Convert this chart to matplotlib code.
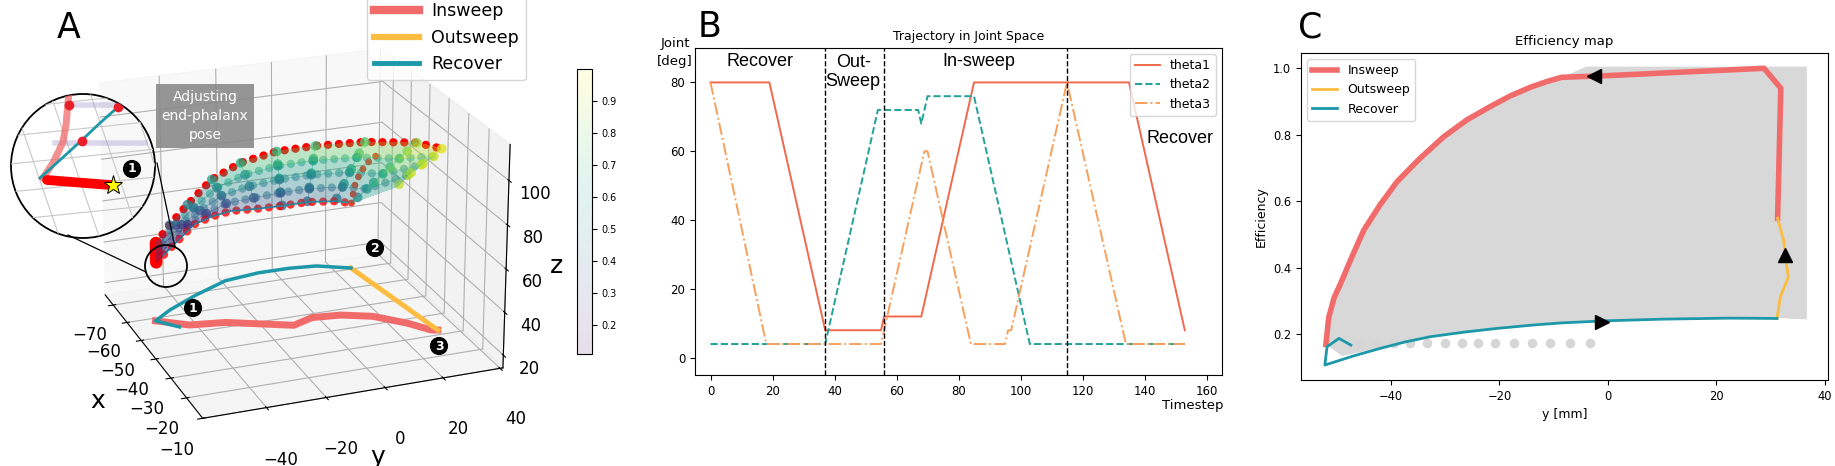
import numpy as np
import matplotlib
matplotlib.use("Agg")
import matplotlib.pyplot as plt
from matplotlib.colors import ListedColormap, Normalize
from matplotlib.cm import ScalarMappable
from matplotlib.lines import Line2D
from matplotlib.patches import Circle, Ellipse
from mpl_toolkits.mplot3d import proj3d

# ---------------- data ----------------
# panel B : joint trajectories
t1_t = [0, 19, 37, 55, 56, 68, 85, 135, 153]
t1_v = [80, 80, 8, 8, 12, 12, 80, 80, 8]
t2_t = [0, 37, 54, 67, 68, 70, 85, 103, 153]
t2_v = [4, 4, 72, 72, 68, 76, 76, 4, 4]
t3_t = [0, 18, 55, 69, 70, 84, 95, 96, 97, 115, 134, 153]
t3_v = [80, 4, 4, 60, 60, 4, 4, 8, 8, 80, 4, 4]
phase_t = [37, 56, 115]

# panel C : efficiency map
ins_c_y = [31.3, 31.9, 28.8, -1.4, -8.5, -11.3, -14.3, -18.0, -21.7, -26.0, -30.3, -34.8,
           -38.9, -42.0, -45.0, -47.3, -49.3, -50.5, -51.5, -52.0]
ins_c_e = [0.549, 0.94, 1.0, 0.977, 0.973, 0.96, 0.943, 0.917, 0.885, 0.845, 0.794, 0.727,
           0.659, 0.59, 0.514, 0.43, 0.353, 0.31, 0.25, 0.17]
out_c_y = [31.2, 31.8, 33.3, 32.9, 32.4, 31.3]
out_c_e = [0.248, 0.313, 0.373, 0.414, 0.484, 0.549]
rec_c_y = [-47.4, -49.6, -51.8, -52.2, -51.2, -47.0, -42.0, -37.5, -32.8, -26.5, -20.5,
           -14.0, -8.2, -0.2, 10.3, 22.5, 31.2]
rec_c_e = [0.168, 0.188, 0.163, 0.108, 0.113, 0.135, 0.158, 0.177, 0.193, 0.207, 0.218,
           0.228, 0.235, 0.241, 0.246, 0.249, 0.248]
cloud_y = [-52.0, -50.5, -49.3, -45.0, -38.9, -30.3, -21.7, -14.3, -8.5, -4.0, 36.7, 36.7,
           31.0, 22.5, 10.3, -0.2, -8.2, -20.5, -32.8, -42.0, -49.0]
cloud_e = [0.17, 0.31, 0.35, 0.514, 0.659, 0.794, 0.885, 0.943, 0.973, 1.005, 1.005, 0.245,
           0.25, 0.252, 0.248, 0.243, 0.237, 0.22, 0.195, 0.16, 0.135]
dots_y = [-45.5, -42.5, -39.5, -36.5, -33.3, -30.0, -26.9, -23.9, -20.8, -17.4, -14.0, -10.6, -7.0, -3.3]
dots_e = [0.173] * len(dots_y)
arrows = [(-2.6, 0.977, '<'), (32.7, 0.438, '^'), (-1.1, 0.238, '>')]

# panel A : 3D workspace, ribs from outer arc (insweep) to inner arc (recover)
fan_x = [[-58.3, -58.5, -58.8, -59.0, -59.2],
         [-56.4, -59.4, -62.5, -65.5, -68.5],
         [-53.9, -58.4, -62.9, -67.3, -71.8],
         [-52.9, -58.3, -63.7, -69.1, -74.5],
         [-50.8, -57.0, -63.2, -69.3, -75.5],
         [-47.3, -54.4, -61.4, -68.5, -75.5],
         [-48.0, -54.8, -61.7, -68.5, -75.3],
         [-44.9, -51.8, -58.7, -65.5, -72.4],
         [-36.6, -45.1, -53.6, -62.1, -70.6],
         [-32.3, -40.0, -48.0, -55.0, -61.0]]
fan_y = [[-51.1, -51.0, -50.9, -50.8, -50.7],
         [-47.2, -43.5, -39.9, -36.2, -32.5],
         [-42.2, -37.7, -33.2, -28.6, -24.1],
         [-34.2, -29.6, -25.1, -20.5, -15.9],
         [-25.3, -20.4, -15.4, -10.5, -5.5],
         [-14.8, -10.3, -5.7, -1.2, 3.4],
         [-0.9, 2.5, 5.9, 9.3, 12.7],
         [14.6, 16.3, 18.0, 19.7, 21.4],
         [27.4, 27.1, 26.9, 26.6, 26.3],
         [33.4, 36.0, 37.0, 37.0, 37.0]]
fan_z = [[51.7, 49.2, 46.7, 44.1, 41.6],
         [60.9, 57.9, 54.9, 51.9, 48.9],
         [71.5, 65.8, 60.1, 54.4, 48.7],
         [82.5, 73.8, 65.1, 56.4, 47.7],
         [90.2, 79.2, 68.2, 57.1, 46.1],
         [96.1, 83.5, 71.0, 58.4, 45.8],
         [95.7, 83.3, 70.9, 58.5, 46.1],
         [97.0, 84.5, 72.1, 59.6, 47.1],
         [100.3, 86.9, 73.5, 60.0, 46.6],
         [99.5, 90.0, 80.0, 70.0, 60.0]]
fan_e = [[0.30, 0.26, 0.22, 0.19, 0.15],
         [0.45, 0.39, 0.32, 0.26, 0.20],
         [0.55, 0.47, 0.39, 0.30, 0.22],
         [0.65, 0.55, 0.45, 0.35, 0.25],
         [0.72, 0.60, 0.49, 0.38, 0.27],
         [0.75, 0.62, 0.51, 0.41, 0.30],
         [0.78, 0.65, 0.54, 0.44, 0.33],
         [0.82, 0.70, 0.60, 0.50, 0.40],
         [0.90, 0.80, 0.70, 0.60, 0.50],
         [0.97, 0.95, 0.93, 0.92, 0.90]]
out3_x = [-70.6, -69.1, -66.6, -62.2, -57.2]
out3_y = [26.3, 26.6, 27.0, 27.9, 28.8]
out3_z = [46.6, 56.7, 64.7, 74.0, 80.9]

# trajectory projected on the floor
ins_fx = [-32.3, -32.9, -38.0, -44.0, -47.1, -48.1, -45.7, -52.4, -53.9, -58.6]
ins_fy = [33.4, 31.3, 26.1, 17.5, 7.9, -1.9, -9.8, -30.3, -42.2, -51.7]
out_fx = [-70.6, -32.3]
out_fy = [26.3, 33.4]
rec_fx = [-53.7, -58.6, -63.0, -68.5, -73.9, -75.5, -75.5, -74.5, -70.6]
rec_fy = [-45.8, -51.7, -44.4, -32.5, -18.6, -5.5, 5.8, 15.7, 26.3]

# zoomed inset (inset pixel coords)
pink_x = [59, 58, 56, 53, 43, 33]
pink_y = [0, 10, 32, 49, 70, 85]
thick_x = [37, 100]
thick_y = [87, 92]
tealI_x = [30, 50, 72, 90, 108, 115]
tealI_y = [85, 67, 47, 30, 14, 7]
dotI_x = [59, 72, 108]
dotI_y = [12, 48, 14]

C_RED = '#f26b6b'
C_YEL = '#fbbc3f'
C_TEAL = '#1c98a8'

W, H = 1835, 466
fig = plt.figure(figsize=(W / 100, H / 100), dpi=100)


def px(x0, y0, x1, y1):
    return [x0 / W, 1 - y1 / H, (x1 - x0) / W, (y1 - y0) / H]


# ---------------- panel A ----------------
xlo, xhi, ylo, yhi, zlo, zhi = -76, -10, -61, 41, 14, 116
ax = fig.add_axes(px(20, -20, 580, 450), projection='3d')
ax.patch.set_alpha(0)
ax.set_xlim(xlo, xhi)
ax.set_ylim(ylo, yhi)
ax.set_zlim(zlo, zhi)
ax.view_init(elev=22, azim=-21)

# scale/shift the axes so the box corners sit where they are in the reference
box_pts = np.array([(xhi, ylo, zlo), (xhi, yhi, zlo), (xlo, ylo, zlo),
                    (xhi, yhi, zhi), (xlo, ylo, zhi)], dtype=float)
box_px = np.array([(201.7, 418.3), (502, 368), (105, 295), (511, 145), (100, 82)])
target = np.column_stack([box_px[:, 0], H - box_px[:, 1]])
fig.canvas.draw()
X, Y, _ = proj3d.proj_transform(box_pts[:, 0], box_pts[:, 1], box_pts[:, 2], ax.get_proj())
P = ax.transData.transform(np.column_stack([X, Y]))
pm, tm = P.mean(0), target.mean(0)
s = ((P - pm) * (target - tm)).sum() / ((P - pm) ** 2).sum()
t = tm - s * pm
pos = ax.get_position(original=True)
ax.set_position([(pos.x0 * W * s + t[0]) / W, (pos.y0 * H * s + t[1]) / H,
                 pos.width * s, pos.height * s])

cmap = plt.get_cmap('viridis')
norm = Normalize(0.11, 1.0)
FX, FY, FZ, FE = (np.array(a, dtype=float) for a in (fan_x, fan_y, fan_z, fan_e))
fc = cmap(norm(FE))
fc[..., 3] = 0.35
ax.plot_surface(FX, FY, FZ, facecolors=fc, shade=False, linewidth=0, antialiased=False,
                rstride=1, cstride=1)
dots = (0, (0.01, 1.3))
for k in range(1, FX.shape[1] - 1):
    ax.plot(FX[:, k], FY[:, k], FZ[:, k], color=cmap(norm(FE[5, k])), lw=6, ls=dots,
            dash_capstyle='round', alpha=0.5)
ax.plot(FX[:, 0], FY[:, 0], FZ[:, 0], color='red', lw=6, ls=dots, dash_capstyle='round')
for i in range(FX.shape[0]):
    for k in range(FX.shape[1] - 1):
        col = cmap(norm(0.5 * (FE[i, k] + FE[i, k + 1])))
        ax.plot(FX[i, k:k + 2], FY[i, k:k + 2], FZ[i, k:k + 2], color=col, lw=7,
                ls=dots, dash_capstyle='round', alpha=0.75)
ax.plot(FX[:9, -1], FY[:9, -1], FZ[:9, -1], color='red', lw=6, ls=dots,
        dash_capstyle='round', alpha=0.8)
ax.plot(FX[:9, -1], FY[:9, -1], FZ[:9, -1], color=C_TEAL, lw=1.2)
ax.plot(out3_x, out3_y, out3_z, color='#e8402a', lw=5, ls=dots, dash_capstyle='round')
ax.plot(FX[0], FY[0], FZ[0], color='red', lw=9, solid_capstyle='round')

ax.plot(ins_fx, ins_fy, [zlo] * len(ins_fx), color=C_RED, lw=5)
ax.plot(out_fx, out_fy, [zlo] * len(out_fx), color=C_YEL, lw=3.5)
ax.plot(rec_fx, rec_fy, [zlo] * len(rec_fx), color=C_TEAL, lw=2.5)

ax.set_xticks([-70, -60, -50, -40, -30, -20, -10])
ax.set_yticks([-40, -20, 0, 20, 40])
ax.set_zticks([20, 40, 60, 80, 100])
ax.tick_params(labelsize=12)
ax.tick_params(axis='x', pad=7)
ax.tick_params(axis='y', pad=14)
ax.tick_params(axis='z', pad=3)
ax.set_xlabel('x', fontsize=18, labelpad=12)
ax.set_ylabel('y', fontsize=18, labelpad=12)
ax.set_zlabel('z', fontsize=18, labelpad=0)

# colorbar (faded viridis)
base = cmap(np.linspace(0, 1, 256))
base[:, :3] = base[:, :3] * 0.13 + 0.87
faded = ListedColormap(base)
cax = fig.add_axes(px(577, 69, 592, 354))
cb = fig.colorbar(ScalarMappable(norm=norm, cmap=faded), cax=cax,
                  ticks=[0.2, 0.3, 0.4, 0.5, 0.6, 0.7, 0.8, 0.9])
cb.ax.tick_params(labelsize=7)

# legend A
hA = [Line2D([], [], color=C_RED, lw=6), Line2D([], [], color=C_YEL, lw=4.5),
      Line2D([], [], color=C_TEAL, lw=3.5)]
fig.legend(hA, ['Insweep', 'Outsweep', 'Recover'], loc='upper left',
           bbox_to_anchor=(367 / W, 1 + 5 / H), borderaxespad=0, fontsize=12.5,
           handlelength=2.6, handletextpad=0.7, labelspacing=0.5)

# annotation box
fig.text(205 / W, 1 - 116 / H, 'Adjusting\nend-phalanx\npose', ha='center', va='center',
         color='white', fontsize=10, linespacing=1.45,
         bbox=dict(boxstyle='square,pad=0.4', fc='#8a8a8a', ec='none', alpha=0.9))

# numbered markers
for lab, (xx, yy) in zip(['1', '2', '3', '1'], [(193, 308), (375, 248), (439, 346), (132, 169)]):
    fig.text(xx / W, 1 - yy / H, lab, ha='center', va='center', color='white', fontsize=9,
             fontweight='bold',
             bbox=dict(boxstyle='circle,pad=0.15', fc='black', ec='black'))

# inset zoom
axI = fig.add_axes(px(10, 93, 156, 239))
axI.set_xlim(0, 146)
axI.set_ylim(146, 0)
axI.axis('off')
clip = Circle((73, 73), 72, transform=axI.transData)
arts = []
for k in range(6):
    arts += axI.plot([0, 146], [15 + 28 * k, 0 + 28 * k], color='#c8c8c8', lw=0.8)
    arts += axI.plot([-40 + 40 * k, 10 + 40 * k], [0, 146], color='#c8c8c8', lw=0.8)
arts += axI.plot([45, 135], [50, 50], color='#9b8fc6', lw=4, alpha=0.35)
arts += axI.plot([60, 125], [12, 12], color='#9b8fc6', lw=4, alpha=0.35)
arts += axI.plot(pink_x, pink_y, color=C_RED, lw=5, alpha=0.75)
arts += axI.plot(tealI_x, tealI_y, color=C_TEAL, lw=2)
arts += axI.plot(thick_x, thick_y, color='red', lw=7, solid_capstyle='round')
arts += axI.plot(dotI_x, dotI_y, 'o', color='#e8202a', ms=6)
arts += axI.plot([103], [92], '*', color='yellow', mec='black', mew=0.7, ms=14)
for a in arts:
    a.set_clip_path(clip)
axI.add_patch(Circle((73, 73), 72, fill=False, ec='black', lw=1.3, clip_on=False))
fig.add_artist(Ellipse((166 / W, 1 - 266 / H), 42 / W, 42 / H, transform=fig.transFigure,
                       fill=False, ec='black', lw=1.3))
fig.add_artist(Line2D([157 / W, 175 / W], [1 - 163 / H, 1 - 247 / H], color='black', lw=0.9))
fig.add_artist(Line2D([68 / W, 146 / W], [1 - 235 / H, 1 - 272 / H], color='black', lw=0.9))

# ---------------- panel B ----------------
axB = fig.add_axes(px(695, 48, 1222, 375))
axB.plot(t1_t, t1_v, color='#f0694c', lw=1.4, label='theta1')
axB.plot(t2_t, t2_v, color='#22a196', lw=1.4, ls='--', label='theta2')
axB.plot(t3_t, t3_v, color='#f8a05c', lw=1.4, ls='-.', label='theta3')
for tt in phase_t:
    axB.axvline(tt, color='black', ls='--', lw=1)
axB.set_xlim(-5, 165)
axB.set_ylim(-5, 90)
axB.set_xticks([0, 20, 40, 60, 80, 100, 120, 140, 160])
axB.set_yticks([0, 20, 40, 60, 80])
axB.tick_params(labelsize=8.5)
axB.legend(loc='upper right', fontsize=9)
axB.set_title('Trajectory in Joint Space', fontsize=9, x=0.52)
sans = ['Liberation Sans', 'DejaVu Sans']
axB.text(16, 86, 'Recover', ha='center', va='center', fontsize=13, family=sans)
axB.text(46, 83, 'Out-\nSweep', ha='center', va='center', fontsize=13, family=sans,
         linespacing=1.1)
axB.text(86.5, 86, 'In-sweep', ha='center', va='center', fontsize=13, family=sans)
axB.text(151.3, 63.8, 'Recover', ha='center', va='center', fontsize=13, family=sans)
axB.text(-0.038, 0.985, 'Joint\n[deg]', transform=axB.transAxes, ha='center', va='center',
         fontsize=9.5, linespacing=1.5)
axB.text(0.945, -0.092, 'Timestep', transform=axB.transAxes, ha='center', va='center',
         fontsize=9.5)

# ---------------- panel C ----------------
axC = fig.add_axes(px(1301, 53, 1828, 380))
axC.fill(cloud_y, cloud_e, color='#d8d8d8', lw=0)
axC.scatter(dots_y, dots_e, s=35, color='#d6d6d6')
axC.plot(ins_c_y, ins_c_e, color=C_RED, lw=4, label='Insweep')
axC.plot(out_c_y, out_c_e, color=C_YEL, lw=2, label='Outsweep')
axC.plot(rec_c_y, rec_c_e, color=C_TEAL, lw=2, label='Recover')
for ay, ae, m in arrows:
    axC.plot([ay], [ae], marker=m, color='black', ms=10)
axC.set_xlim(-56.6, 40.6)
axC.set_ylim(0.063, 1.046)
axC.set_xticks([-40, -20, 0, 20, 40])
axC.set_yticks([0.2, 0.4, 0.6, 0.8, 1.0])
axC.tick_params(labelsize=8.3)
axC.set_xlabel('y [mm]', fontsize=9)
axC.set_ylabel('Efficiency', fontsize=9)
axC.set_title('Efficiency map', fontsize=9.5)
axC.legend(loc='upper left', fontsize=9)

# panel letters
for lab, xx, yy in [('A', 57, 38), ('B', 698, 37), ('C', 1298, 38)]:
    fig.text(xx / W, 1 - yy / H, lab, fontsize=25, va='baseline')

fig.savefig('out.png', dpi=100)
